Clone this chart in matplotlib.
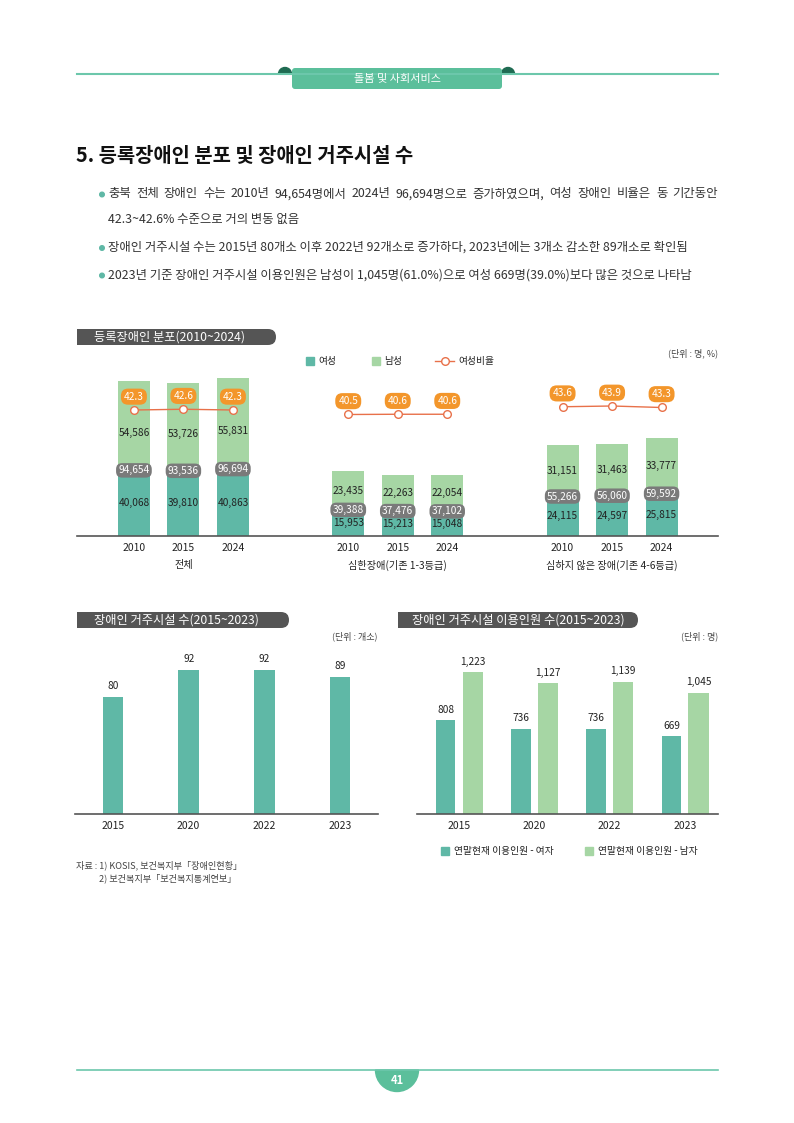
import matplotlib
matplotlib.use('Agg')
import matplotlib.pyplot as plt
import matplotlib.transforms as mtransforms
from matplotlib.patches import Rectangle, FancyBboxPatch, Circle, Wedge

plt.rcParams['font.family'] = ['Noto Sans CJK KR', 'DejaVu Sans']

# ---- data ----
years1 = ['2010', '2015', '2024']
groups1 = ['전체', '심한장애(기존 1-3등급)', '심하지 않은 장애(기존 4-6등급)']
female1 = [[40068, 39810, 40863], [15953, 15213, 15048], [24115, 24597, 25815]]
male1 = [[54586, 53726, 55831], [23435, 22263, 22054], [31151, 31463, 33777]]
total1 = [[94654, 93536, 96694], [39388, 37476, 37102], [55266, 56060, 59592]]
ratio1 = [[42.3, 42.6, 42.3], [40.5, 40.6, 40.6], [43.6, 43.9, 43.3]]

years2 = ['2015', '2020', '2022', '2023']
facilities = [80, 92, 92, 89]

years3 = ['2015', '2020', '2022', '2023']
users_female = [808, 736, 736, 669]
users_male = [1223, 1127, 1139, 1045]

bullets = [
    ['충북 전체 장애인 수는 2010년 94,654명에서 2024년 96,694명으로 증가하였으며, 여성 장애인 비율은 동 기간동안',
     '42.3~42.6% 수준으로 거의 변동 없음'],
    ['장애인 거주시설 수는 2015년 80개소 이후 2022년 92개소로 증가하다, 2023년에는 3개소 감소한 89개소로 확인됨'],
    ['2023년 기준 장애인 거주시설 이용인원은 남성이 1,045명(61.0%)으로 여성 669명(39.0%)보다 많은 것으로 나타남'],
]

TEAL = '#5fb8a6'
LGREEN = '#a6d6a4'
ORANGE = '#e8714a'
ORANGE_PILL = '#f3962b'
GRAY_PILL = '#7a7a7a'
HEADER = '#555555'
LINE_GREEN = '#6cc7ab'
TAB_GREEN = '#5bbf9b'
DARK_GREEN = '#1f6b52'
TXT = '#222222'

W, H = 794, 1123
fig = plt.figure(figsize=(W / 100, H / 100), dpi=100)
renderer = fig.canvas.get_renderer()


def rect(l, t, r, b):
    return [l / W, 1 - b / H, (r - l) / W, (b - t) / H]


# page overlay in pixel coordinates
bg = fig.add_axes([0, 0, 1, 1], zorder=0)
bg.set_xlim(0, W)
bg.set_ylim(H, 0)
bg.axis('off')

# top header
bg.plot([77, 718], [73.5, 73.5], color=LINE_GREEN, lw=1.5)
bg.add_patch(Wedge((285, 74), 6.5, 180, 360, color=DARK_GREEN))
bg.add_patch(Wedge((508, 74), 6.5, 180, 360, color=DARK_GREEN))
bg.add_patch(FancyBboxPatch((292, 68), 210, 21, boxstyle='round,pad=0,rounding_size=3',
                            fc=TAB_GREEN, ec='none'))
bg.text(397, 79, '돌봄 및 사회서비스', color='white', fontsize=8, ha='center', va='center')

# title and bullets
bg.text(76, 156, '5. 등록장애인 분포 및 장애인 거주시설 수', fontsize=14.3, fontweight='bold',
        color='#111111', ha='left', va='center')

BULLET_FS = 8.9
TEXT_X0, TEXT_X1 = 108, 718


def justified(line, y):
    # spread the words so the line fills the text column, like the wrapped first line
    words = line.split(' ')
    objs = [bg.text(0, y, w, fontsize=BULLET_FS, color='#333333', ha='left', va='center') for w in words]
    widths = [o.get_window_extent(renderer).width for o in objs]
    gap = (TEXT_X1 - TEXT_X0 - sum(widths)) / (len(words) - 1)
    x = TEXT_X0
    for o, w in zip(objs, widths):
        o.set_x(x)
        x += w + gap


by = [194, 247.5, 275]
for lines, y in zip(bullets, by):
    bg.add_patch(Circle((102, y + 0.5), 2.3, color=TEAL))
    for k, ln in enumerate(lines):
        if k < len(lines) - 1:
            justified(ln, y + k * 25)
        else:
            bg.text(TEXT_X0, y + k * 25, ln, fontsize=BULLET_FS, color='#333333', ha='left', va='center')


def header_pill(x0, x1, y0, y1, label, tx):
    h = y1 - y0
    bg.add_patch(FancyBboxPatch((x0, y0), x1 - x0, h, boxstyle='round,pad=0,rounding_size=%f' % (h / 2),
                                fc=HEADER, ec='none'))
    bg.add_patch(Rectangle((x0, y0), h, h, fc=HEADER, ec='none'))
    bg.text(tx, (y0 + y1) / 2, label, color='white', fontsize=8.8, ha='left', va='center')


header_pill(77, 276, 329, 345, '등록장애인 분포(2010~2024)', 94)
header_pill(77, 289, 612, 628, '장애인 거주시설 수(2015~2023)', 94)
header_pill(398, 638, 612, 628, '장애인 거주시설 이용인원 수(2015~2023)', 412)

# chart 1 legend and unit
bg.add_patch(Rectangle((306, 357), 8, 8, color=TEAL))
bg.text(318, 361, '여성', fontsize=7, ha='left', va='center', color=TXT)
bg.add_patch(Rectangle((372, 357), 8, 8, color=LGREEN))
bg.text(384, 361, '남성', fontsize=7, ha='left', va='center', color=TXT)
bg.plot([435, 454], [361, 361], color=ORANGE, lw=1)
bg.plot([444.5], [361], marker='o', ms=5.5, mfc='white', mec=ORANGE, mew=1)
bg.text(458, 361, '여성비율', fontsize=7, ha='left', va='center', color=TXT)
bg.text(718, 353, '(단위 : 명, %)', fontsize=6.5, ha='right', va='center', color='#444444')

bg.text(377, 636, '(단위 : 개소)', fontsize=6.5, ha='right', va='center', color='#444444')
bg.text(718, 636, '(단위 : 명)', fontsize=6.5, ha='right', va='center', color='#444444')

# chart 3 legend
bg.add_patch(Rectangle((441, 847), 8, 8, color=TEAL))
bg.text(454, 851, '연말현재 이용인원 - 여자', fontsize=7, ha='left', va='center', color=TXT)
bg.add_patch(Rectangle((585, 847), 8, 8, color=LGREEN))
bg.text(598, 851, '연말현재 이용인원 - 남자', fontsize=7, ha='left', va='center', color=TXT)

# source
bg.text(76, 865, '자료 : 1) KOSIS, 보건복지부「장애인현황」', fontsize=6.6, ha='left', va='center', color='#444444')
bg.text(99, 878, '2) 보건복지부「보건복지통계연보」', fontsize=6.6, ha='left', va='center', color='#444444')

# footer
bg.plot([77, 718], [1070, 1070], color=LINE_GREEN, lw=1.2)
bg.add_patch(Wedge((397, 1070), 21.5, 0, 180, color=TAB_GREEN))
bg.text(397, 1081, '41', color='white', fontsize=8, fontweight='bold', ha='center', va='center')


def clean(ax):
    for s in ['top', 'right', 'left']:
        ax.spines[s].set_visible(False)
    ax.spines['bottom'].set_color('#555555')
    ax.spines['bottom'].set_linewidth(1.2)
    ax.set_yticks([])
    ax.tick_params(axis='x', length=0, pad=5, labelsize=7.5, labelcolor=TXT)
    ax.patch.set_alpha(0)


# ---- chart 1: registered disabled ----
ax1 = fig.add_axes(rect(77, 365, 718, 536), zorder=2)
ax1r = ax1.twinx()
group_gap = 4.33
xs_all, labels_all = [], []
for g in range(3):
    xs = [g * group_gap + i for i in range(3)]
    xs_all += xs
    labels_all += years1
    ax1.bar(xs, female1[g], width=0.646, color=TEAL)
    ax1.bar(xs, male1[g], bottom=female1[g], width=0.646, color=LGREEN)
    for x, f, m, t in zip(xs, female1[g], male1[g], total1[g]):
        ax1.text(x, f / 2, f'{f:,}', ha='center', va='center', fontsize=7.3, color=TXT)
        # in the first group the ratio line sits inside the bar, so the label is nudged down
        my = f + m / 2 - (4500 if g == 0 else 0)
        ax1.text(x, my, f'{m:,}', ha='center', va='center', fontsize=7.3, color=TXT)
        ax1.text(x, f, f'{t:,}', ha='center', va='center', fontsize=7.3, color='white',
                 bbox=dict(boxstyle='round,pad=0.22,rounding_size=0.6', fc=GRAY_PILL, ec='none'))
    ax1r.plot(xs, ratio1[g], color=ORANGE, lw=1, marker='o', ms=5.5, mfc='white', mec=ORANGE, mew=1)
    for x, r in zip(xs, ratio1[g]):
        ax1r.annotate(f'{r}', (x, r), xytext=(0, 9.6), textcoords='offset points', ha='center',
                      va='center', fontsize=7.3, color='white',
                      bbox=dict(boxstyle='round,pad=0.3,rounding_size=0.7', fc=ORANGE_PILL, ec='none'))
    ax1.text(g * group_gap + 1, -0.17, groups1[g], transform=mtransforms.blended_transform_factory(
        ax1.transData, ax1.transAxes), ha='center', va='center', fontsize=7.3, color=TXT)
ax1.set_xlim(-1.15, 11.8)
ax1.set_ylim(0, 104420)
ax1r.set_ylim(-8.1, 60.3)
ax1.set_xticks(xs_all, labels_all)
clean(ax1)
ax1r.axis('off')

# ---- chart 2: facilities ----
ax2 = fig.add_axes(rect(75, 640, 378, 814), zorder=2)
x2 = list(range(len(years2)))
ax2.bar(x2, facilities, width=0.27, color=TEAL)
for x, v in zip(x2, facilities):
    ax2.annotate(f'{v}', (x, v), xytext=(0, 8), textcoords='offset points', ha='center',
                 va='center', fontsize=7.3, color=TXT)
ax2.set_xlim(-0.5, 3.5)
ax2.set_ylim(28, 105.3)
ax2.set_xticks(x2, years2)
clean(ax2)

# ---- chart 3: facility users ----
ax3 = fig.add_axes(rect(417, 640, 718, 814), zorder=2)
x3 = list(range(len(years3)))
off = 0.18
ax3.bar([x - off for x in x3], users_female, width=0.26, color=TEAL)
ax3.bar([x + off for x in x3], users_male, width=0.27, color=LGREEN)
for x, f, m in zip(x3, users_female, users_male):
    ax3.annotate(f'{f:,}', (x - off, f), xytext=(0, 7.5), textcoords='offset points', ha='center',
                 va='center', fontsize=7.3, color=TXT)
    ax3.annotate(f'{m:,}', (x + off, m), xytext=(0, 7.5), textcoords='offset points', ha='center',
                 va='center', fontsize=7.3, color=TXT)
ax3.set_xlim(-0.56, 3.44)
ax3.set_ylim(0, 1498)
ax3.set_xticks(x3, years3)
clean(ax3)

fig.savefig('out.png', dpi=100)
